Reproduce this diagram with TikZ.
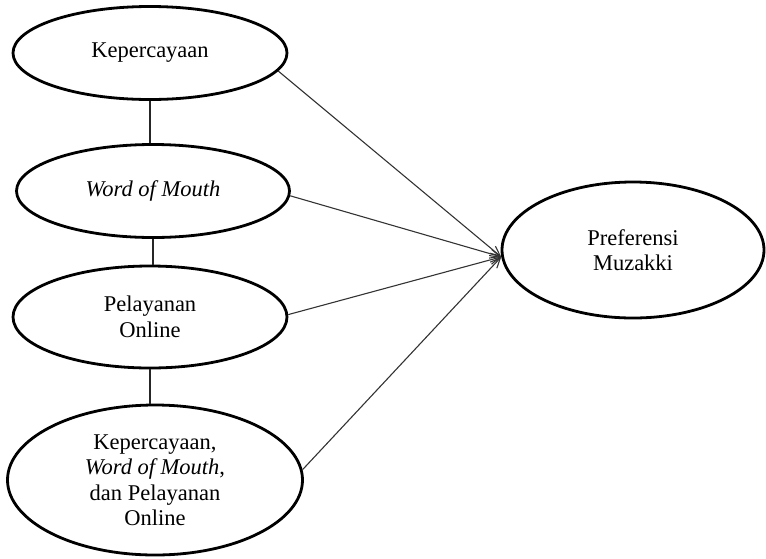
\documentclass[tikz,border=0pt]{standalone}
\usepackage{fontspec}
\setmainfont{Liberation Serif}
\usetikzlibrary{shapes.geometric,arrows.meta}
\begin{document}
\begin{tikzpicture}[x=1pt,y=-1pt,
  var/.style={ellipse,draw=black,line width=2.8pt,inner sep=0pt,align=center,
    font=\fontsize{22.5}{25.5}\selectfont\rmfamily},
  link/.style={draw=black!85,line width=1.2pt},
  arr/.style={draw=black!80,line width=1.1pt,-{Straight Barb[length=10pt,width=9pt,line width=1.1pt]}}]
\useasboundingbox (0,0) rectangle (766,558);
\node[var,minimum width=274pt,minimum height=93pt] (e1) at (150,53) {Kepercayaan};
\node[var,minimum width=273pt,minimum height=93pt] (e2) at (153,191) {\textit{Word of Mouth}};
\node[var,minimum width=274pt,minimum height=102pt] (e3) at (150,317) {Pelayanan\\Online};
\node[var,minimum width=295pt,minimum height=150pt] (e4) at (155,480) {Kepercayaan,\\\textit{Word of Mouth},\\dan Pelayanan\\Online};
\node[var,minimum width=262pt,minimum height=136pt] (p) at (633,250) {Preferensi\\Muzakki};
\draw[link] (e1.south) -- (e1.south |- e2.north);
\draw[link] (e2.south) -- (e2.south |- e3.north);
\draw[link] (e3.south) -- (e3.south |- e4.north);
\draw[arr] (e1.-8) -- (p.183);
\draw[arr] (e2.-2) -- (p.183);
\draw[arr] (e3.1) -- (p.183);
\draw[arr] (e4.4) -- (p.183);
\end{tikzpicture}
\end{document}
